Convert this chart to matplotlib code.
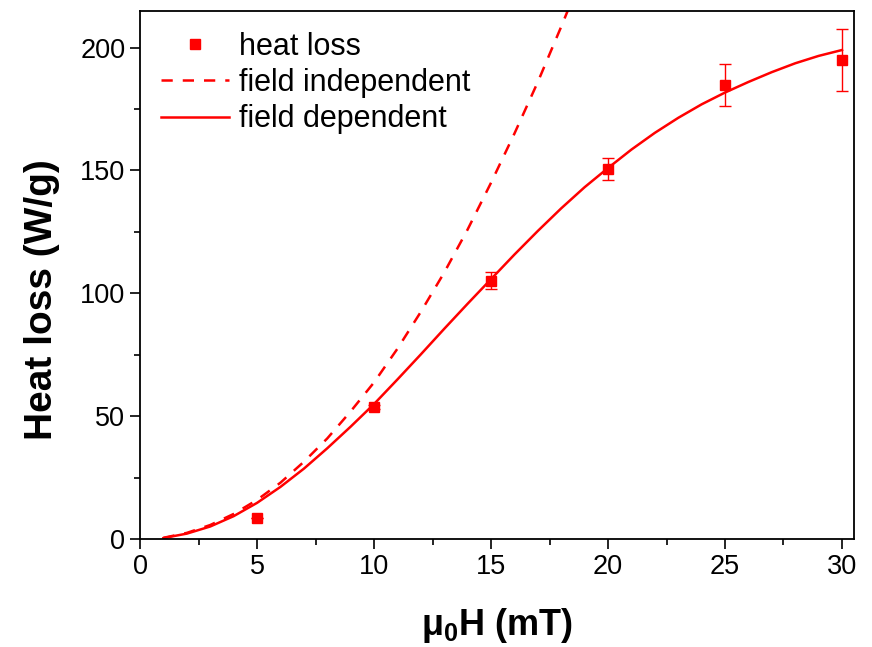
import numpy as np
import matplotlib
matplotlib.use("Agg")
from matplotlib import pyplot as plt
from matplotlib.lines import Line2D

plt.rcParams['font.family'] = ['Liberation Sans', 'DejaVu Sans']
plt.rcParams['mathtext.fontset'] = 'custom'
plt.rcParams['mathtext.rm'] = 'Liberation Sans'
plt.rcParams['mathtext.bf'] = 'Liberation Sans:bold'

# measured heat loss
field_meas = [5, 10, 15, 20, 25, 30]
heat_meas = [8.5, 53.8, 105.2, 150.5, 184.8, 195.0]
heat_err = [0.0, 1.0, 3.5, 4.5, 8.7, 12.6]

# field independent model
field_ind = [1, 2, 3, 4, 5, 6, 7, 8, 9, 10, 11, 12, 13, 14, 15, 16, 17, 18, 18.3]
heat_ind = [0.6, 2.6, 5.8, 10.3, 16.0, 23.0, 31.5, 41.0, 52.0, 63.8,
            77.5, 92.5, 108.5, 126.0, 145.0, 165.0, 186.0, 208.5, 215.5]

# field dependent model
field_dep = [1, 2, 3, 4, 5, 6, 7, 8, 9, 10, 11, 12, 13, 14, 15,
             16, 17, 18, 19, 20, 21, 22, 23, 24, 25, 26, 27, 28, 29, 30]
heat_dep = [0.5, 2.3, 5.2, 9.4, 14.8, 21.3, 28.7, 37.0, 45.8, 55.0,
            65.0, 75.2, 85.6, 95.8, 105.8, 115.8, 125.4, 134.6, 143.2, 151.0,
            158.5, 165.3, 171.4, 176.9, 181.7, 186.0, 190.0, 193.6, 196.6, 199.0]

fig = plt.figure(figsize=(8.72, 6.47), dpi=100)
ax = fig.add_axes([0.1606, 0.1665, 0.8184, 0.817])

ax.errorbar(field_meas, heat_meas, yerr=heat_err, fmt='s', color='red',
            markersize=7.5, elinewidth=1.0, capsize=4, capthick=1.0, zorder=3)
ax.plot(field_ind, heat_ind, '--', color='red', lw=1.8, dashes=(4.5, 4))
ax.plot(field_dep, heat_dep, '-', color='red', lw=1.8)

ax.set_xlim(0, 30.5)
ax.set_ylim(0, 215)
ax.set_xticks([0, 5, 10, 15, 20, 25, 30])
ax.set_yticks([0, 50, 100, 150, 200])
ax.set_xticks(np.arange(2.5, 30, 5), minor=True)
ax.set_yticks([25, 75, 125, 175], minor=True)
ax.tick_params(which='both', direction='out', top=False, right=False, width=1.2)
ax.tick_params(which='major', length=7, labelsize=19.5)
ax.tick_params(which='minor', length=4)
for s in ax.spines.values():
    s.set_linewidth(1.3)

ax.set_xlabel(r'$\mathregular{\mu_0}$H (mT)', fontsize=26, fontweight='bold',
              labelpad=19)
ax.set_ylabel('Heat loss (W/g)', fontsize=28, fontweight='bold')
ax.yaxis.set_label_coords(-0.112, 0.4527)

# legend: marker without error bars, as in the original
handles = [
    Line2D([], [], ls='none', marker='s', color='red', markersize=7.5),
    Line2D([], [], ls='--', color='red', lw=1.8, dashes=(4.5, 4)),
    Line2D([], [], ls='-', color='red', lw=1.8),
]
labels = ['heat loss', 'field independent', 'field dependent']
ax.legend(handles, labels, loc='upper left', frameon=False, fontsize=22,
          handlelength=2.2, handletextpad=0.35, labelspacing=0.2,
          borderaxespad=0.3, bbox_to_anchor=(0.0, 1.0))

fig.savefig('out.png', dpi=100)
